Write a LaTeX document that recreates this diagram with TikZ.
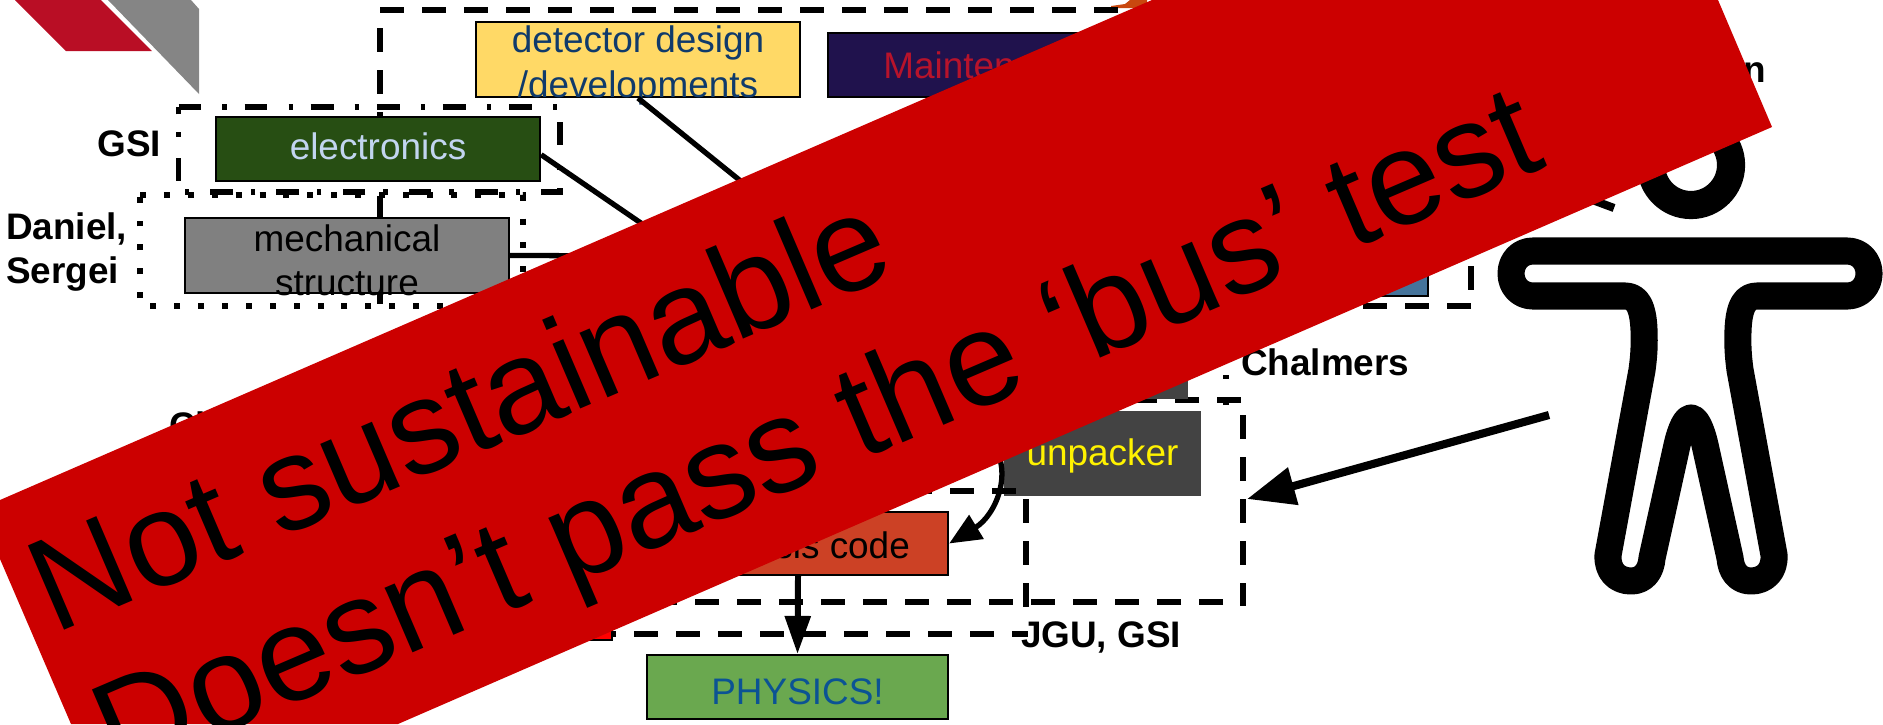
\documentclass[tikz,border=0pt]{standalone}
\usepackage{fontspec}
\setmainfont{Liberation Sans}
\usetikzlibrary{arrows.meta}
\definecolor{logored}{HTML}{B90E25}
\definecolor{logogrey}{HTML}{858585}
\definecolor{bannerred}{HTML}{CC0000}
\definecolor{detectorfill}{HTML}{FFD966}
\definecolor{detectortext}{HTML}{0F3A6B}
\definecolor{maintfill}{HTML}{20124D}
\definecolor{mainttext}{HTML}{B7132B}
\definecolor{elecfill}{HTML}{274E13}
\definecolor{electext}{HTML}{C2D5F0}
\definecolor{mechfill}{HTML}{808080}
\definecolor{codefill}{HTML}{CC4125}
\definecolor{physfill}{HTML}{6AA84F}
\definecolor{phystext}{HTML}{0B5394}
\definecolor{darkbox}{HTML}{434343}
\definecolor{bluebox}{HTML}{45749B}
\definecolor{iconorange}{HTML}{C9480F}

\begin{document}
\begin{tikzpicture}[x=0.01cm,y=-0.01cm,line join=miter,semithick]
  \tikzstyle{dashbox}=[draw=black,line width=1.5pt,dash pattern=on 6.8pt off 5.15pt]
  \tikzstyle{dotbox}=[draw=black,line width=1.6pt,dash pattern=on 1.7pt off 5.1pt]
  \tikzstyle{dashdotbox}=[draw=black,line width=1.6pt,dash pattern=on 6.5pt off 6pt on 1.2pt off 5.1pt]
  \tikzstyle{taskbox}=[rectangle,draw=black,line width=0.6pt,inner xsep=0pt,inner ysep=-0.3cm,align=center,
                       font=\fontsize{10.5}{12.7}\selectfont]
  \tikzstyle{who}=[inner sep=0pt,align=left,font=\fontsize{10.5}{12.3}\selectfont\bfseries]
  \tikzstyle{wire}=[draw=black,line width=1.5pt]
  \tikzstyle{bigarrow}=[draw=black,line width=2.3pt,-{Triangle[length=0.48cm,width=0.37cm]}]
  \tikzstyle{bannertext}=[inner sep=0pt,anchor=base west,rotate=23.2,text=black,
                          font=\fontsize{37.9}{44}\selectfont]
  \tikzstyle{person}=[draw=black,line width=7.7pt,fill=white,line join=round]

  \useasboundingbox (0,0) rectangle (1883,724);
  \clip (0,0) rectangle (1883,724);

  % logo
  \fill[logored] (15,0) -- (101,0) -- (152,51) -- (66,51) -- cycle;
  \fill[logogrey] (108,0) -- (191,0) -- (199,9) -- (199,94) -- cycle;
  \fill[iconorange] (1111,6) -- (1125,4) -- (1130,0) -- (1147,0) -- (1147,8) -- (1111,8) -- cycle;

  % dashed groups
  \draw[dashbox] (380,10) -- (1150,10);
  \draw[dashbox] (380,28) -- (380,306);
  \draw[dashbox] (1471,98) -- (1471,306);
  \draw[dashbox] (1471,306) -- (600,306);
  \draw[dashbox] (1241,400) -- (1100,400);
  \draw[dashbox] (1243,415) -- (1243,606);
  \draw[dashbox] (1223,602) -- (640,602);
  \draw[dashbox] (1026,457) -- (1026,607);
  \draw[dashbox] (592,634) -- (1028,634);
  \draw[dashdotbox,dash phase=5.1pt] (1226,405) -- (1226,340);
  \draw[dashdotbox] (178.5,107) -- (560,107) -- (560,192) -- (178.5,192) -- cycle;
  \draw[dotbox] (140,195) -- (523,195) -- (523,306) -- (140,306) -- cycle;

  % tasks
  \node[taskbox,fill=detectorfill,text=detectortext,minimum width=3.24cm,minimum height=0.75cm]
    (detector) at (638,59.5) {\rule{0pt}{11.1pt}detector design\\/developments};
  \node[taskbox,fill=maintfill,text=mainttext,minimum width=3.22cm,minimum height=0.64cm]
    (maintenance) at (989,65) {Maintenance};
  \node[taskbox,fill=elecfill,text=electext,minimum width=3.24cm,minimum height=0.64cm]
    (electronics) at (378,149) {\rule[-1.4pt]{0pt}{1.4pt}electronics};
  \node[taskbox,fill=mechfill,text=black,minimum width=3.24cm,minimum height=0.75cm]
    (mechanical) at (347,255.5) {\rule{0pt}{10.3pt}mechanical\\structure};
  \node[taskbox,fill=bluebox,minimum width=1.98cm,minimum height=0.56cm] (bluetask) at (1329,268) {};
  \node[taskbox,fill=darkbox,draw=none,minimum width=1.97cm,minimum height=0.59cm] (darktask) at (1089.5,369.5) {};
  \node[taskbox,fill=darkbox,draw=none,text=yellow,minimum width=1.97cm,minimum height=0.85cm]
    (unpacker) at (1102.5,453.5) {\rule{0pt}{8.9pt}unpacker};
  \node[taskbox,fill=red,minimum width=1.97cm,minimum height=0.70cm] (redtask) at (513.5,605) {};
  \node[taskbox,fill=codefill,text=black,minimum width=3.00cm,minimum height=0.63cm]
    (analysis) at (798,543.5) {\rule{0pt}{10.5pt}analysis code};
  \node[taskbox,fill=physfill,text=phystext,minimum width=3.01cm,minimum height=0.64cm]
    (physics) at (797.5,687) {\rule{0pt}{10.3pt}PHYSICS!};
  \draw[dashbox] (866,491) -- (1016,491);

  % who does what
  \node[who,anchor=east] (gsi) at (162,144) {GSI};
  \node[who,anchor=west] (daniel) at (5,229) {Daniel,};
  \node[who,anchor=west] (sergei) at (5,274) {Sergei};
  \node[who,anchor=west] (chalmers) at (1240,362) {Chalmers};
  \node[who,anchor=west] (jgu) at (1020,637) {JGU, GSI};
  \node[who,anchor=west] (hiddenwho) at (168,425) {Ch};
  \node[who,anchor=east] (rightwho) at (1767,73) {n};

  % connectors, their far ends lie under the banner
  \coordinate (detectorend) at (800,229);
  \coordinate (electronicsend) at (800,332);
  \coordinate (mechanicalend) at (700,256);
  \coordinate (curvestart) at (990,440);
  \coordinate (persontail) at (1549,415);
  \coordinate (jgutarget) at (1247,499);
  \coordinate (armtail) at (1614,208);
  \coordinate (armtarget) at (1471,155);
  \draw[wire] (detector.south) -- (detectorend);
  \draw[wire] (electronics.-2) -- (electronicsend);
  \draw[wire] (mechanical.east) -- (mechanicalend);
  \draw[wire,-{Triangle[length=0.32cm,width=0.27cm]}] (curvestart)
    .. controls (1015,470) and (996,515) .. (analysis.east);
  \draw[wire,line width=1.7pt,-{Triangle[length=0.38cm,width=0.25cm]}] (analysis.south) -- (physics.north);
  \draw[bigarrow] (persontail) -- (jgutarget);
  \draw[bigarrow] (armtail) -- (armtarget);

  % person
  \draw[black,line width=8pt] (1691,165) circle[radius=0.40cm];
  \draw[person] (1533,251) -- (1847,251)
    .. controls (1860,251) and (1869,261) .. (1869,273.5)
    .. controls (1869,286) and (1860,296) .. (1847,296)
    -- (1757,296) .. controls (1745,296) and (1739,306) .. (1738,330)
    .. controls (1737.5,345) and (1738,355) .. (1740,370)
    -- (1774,555) .. controls (1775,571) and (1765,581) .. (1751,581)
    .. controls (1738,581) and (1731,571) .. (1730,558)
    -- (1705,445) .. controls (1701,428) and (1696,418) .. (1691,418)
    .. controls (1686,418) and (1681,428) .. (1677,445)
    -- (1652,558) .. controls (1651,571) and (1644,581) .. (1631,581)
    .. controls (1617,581) and (1607,571) .. (1608,555)
    -- (1642,370) .. controls (1644,355) and (1644.5,345) .. (1644,330)
    .. controls (1643,306) and (1637,296) .. (1625,296)
    -- (1533,296) .. controls (1520,296) and (1511,286) .. (1511,273.5)
    .. controls (1511,261) and (1520,251) .. (1533,251) -- cycle;

  % banner
  \fill[bannerred] (0,500) -- (1152,0) -- (1718,0) -- (1772,127) -- (398,724) -- (71,724) -- (0,559) -- cycle;
  \node[bannertext] (notsustainable) at (54,635) {Not sustainable};
  \node[bannertext] (busline) at (118,779) {Doesn’t pass the ‘bus’ test};
\end{tikzpicture}
\end{document}
